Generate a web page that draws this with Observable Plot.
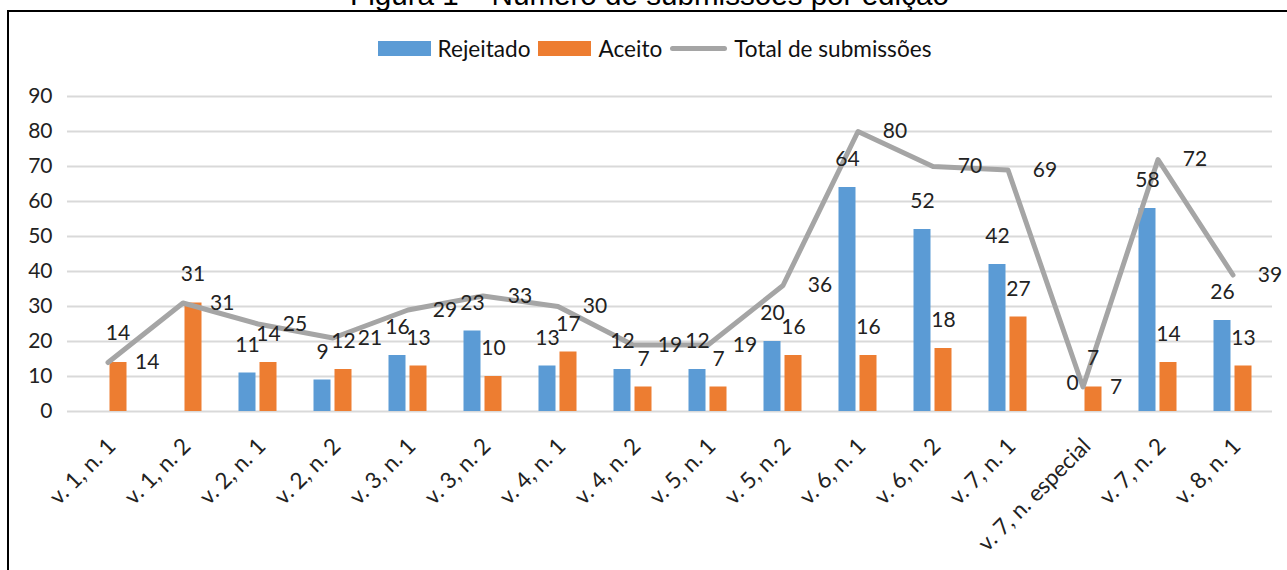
<!DOCTYPE html>
<html>
<head>
<meta charset="utf-8">
<script src="https://cdn.jsdelivr.net/npm/d3@7"></script>
<script src="https://cdn.jsdelivr.net/npm/@observablehq/plot@0.6"></script>
<style>
  body { margin: 0; background: #fff; }
  #wrap { position: relative; width: 1287px; height: 570px; overflow: hidden; background: #fff; }
  #title { position: absolute; left: 6px; top: -20px; width: 1287px; text-align: center;
           font-family: "Liberation Sans", Arial, sans-serif; font-size: 29.6px; line-height: 29px;
           color: #000; white-space: nowrap; }
  #frame { position: absolute; left: 7px; top: 10px; width: 1400px; height: 700px;
           border-left: 2px solid #000; border-top: 2px solid #000; }
  #legend { position: absolute; left: 11px; top: 34px; width: 1287px; height: 28px;
            display: flex; justify-content: center; align-items: center;
            font-family: Lato, sans-serif; font-size: 22.6px; color: #111; }
  #legend .item { display: flex; align-items: center; margin: 0 4px; }
  #legend .sw { width: 53px; height: 15px; margin-right: 7px; }
  #legend .ln { width: 57px; height: 5px; margin-right: 7px; background: #A5A5A5; border-radius: 3px; }
  #chart { position: absolute; left: 0; top: 70px; }
</style>
</head>
<body>
<div id="wrap">
  <div id="title">Figura 1 – Número de submissões por edição</div>
  <div id="frame"></div>
  <div id="legend"></div>
  <div id="chart"></div>
</div>
<script>
// ---- data ----
const categories = ["v. 1, n. 1", "v. 1, n. 2", "v. 2, n. 1", "v. 2, n. 2", "v. 3, n. 1", "v. 3, n. 2",
  "v. 4, n. 1", "v. 4, n. 2", "v. 5, n. 1", "v. 5, n. 2", "v. 6, n. 1", "v. 6, n. 2",
  "v. 7, n. 1", "v. 7, n. especial", "v. 7, n. 2", "v. 8, n. 1"];
const rejeitado = [null, null, 11, 9, 16, 23, 13, 12, 12, 20, 64, 52, 42, 0, 58, 26];
const aceito    = [14, 31, 14, 12, 13, 10, 17, 7, 7, 16, 16, 18, 27, 7, 14, 13];
const total     = [14, 31, 25, 21, 29, 33, 30, 19, 19, 36, 80, 70, 69, 7, 72, 39];
const yTicks    = [0, 10, 20, 30, 40, 50, 60, 70, 80, 90];
const seriesNames = ["Rejeitado", "Aceito", "Total de submissões"];

const colors = { blue: "#5B9BD5", orange: "#ED7D31", gray: "#A5A5A5" };

const rows = categories.map((c, i) => ({ cat: c, rej: rejeitado[i], ace: aceito[i], tot: total[i] }));
const noRej = d => d.rej == null || d.rej === 0;

// ---- legend ----
const legend = document.getElementById("legend");
legend.innerHTML =
  `<div class="item"><div class="sw" style="background:${colors.blue}"></div><span>${seriesNames[0]}</span></div>` +
  `<div class="item"><div class="sw" style="background:${colors.orange}"></div><span>${seriesNames[1]}</span></div>` +
  `<div class="item"><div class="ln"></div><span>${seriesNames[2]}</span></div>`;

// ---- chart ----
const labelStyle = { fontSize: 21, fill: "#222", fontFamily: "Lato" };

const chart = Plot.plot({
  width: 1287,
  height: 500,
  marginTop: 26,
  marginBottom: 159,
  marginLeft: 67,
  marginRight: 15,
  style: { fontFamily: "Lato, sans-serif", fontSize: "21px", color: "#222", background: "transparent" },
  x: { domain: categories, padding: 0, label: null },
  y: { domain: [0, 90], label: null },
  marks: [
    Plot.gridY(yTicks, { stroke: "#D9D9D9", strokeOpacity: 1, strokeWidth: 2 }),
    Plot.axisY(yTicks, { tickSize: 0, tickPadding: 15, label: null, fill: "#222" }),
    Plot.axisX({ tickSize: 0, tickRotate: -45, tickPadding: 31, dx: 4, label: null, fill: "#222", fontSize: 22.5 }),
    Plot.barY(rows.filter(d => d.rej != null), { x: "cat", y: "rej", fill: colors.blue, insetLeft: 18.5, insetRight: 39.5 }),
    Plot.barY(rows, { x: "cat", y: "ace", fill: colors.orange, insetLeft: 39.5, insetRight: 18.5 }),
    Plot.lineY(rows, { x: "cat", y: "tot", stroke: colors.gray, strokeWidth: 5, strokeLinejoin: "round" }),
    // Rejeitado labels
    Plot.text(rows.filter(d => d.rej != null), { x: "cat", y: "rej", text: d => String(d.rej), dx: -10.5, dy: -28, ...labelStyle }),
    // Aceito labels
    Plot.text(rows.filter(d => !noRej(d)), { x: "cat", y: "ace", text: d => String(d.ace), dx: 10.5, dy: -28, ...labelStyle }),
    Plot.text(rows.filter(noRej), { x: "cat", y: "ace", text: d => String(d.ace), dx: 27, dy: 0, textAnchor: "start", ...labelStyle }),
    // Total labels
    Plot.text(rows.filter(d => !noRej(d)), { x: "cat", y: "tot", text: d => String(d.tot), dx: 37, dy: 0, ...labelStyle }),
    Plot.text(rows.filter(noRej), { x: "cat", y: "tot", text: d => String(d.tot), dx: 10, dy: -29, ...labelStyle })
  ]
});
document.getElementById("chart").appendChild(chart);
</script>
</body>
</html>
